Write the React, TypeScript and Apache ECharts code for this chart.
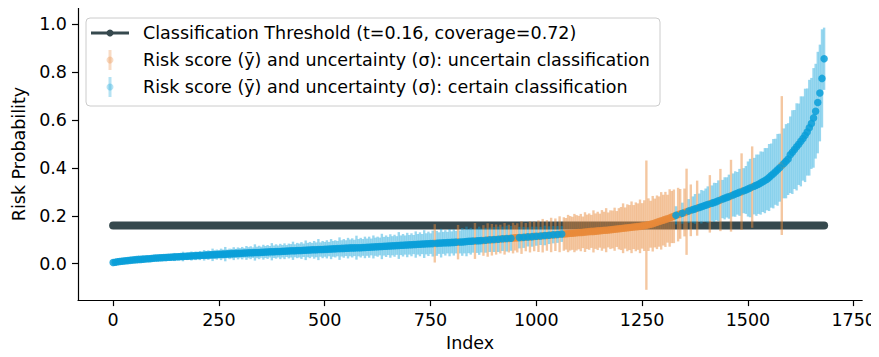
import React, { useEffect, useRef } from "react";
import * as echarts from "echarts";

// index step between consecutive listed risk scores
const STEP = 5;
const THRESHOLD = 0.16;
const THRESHOLD_LABEL = "Classification Threshold (t=0.16, coverage=0.72)";
const UNCERTAIN_LABEL = "Risk score (ȳ) and uncertainty (σ): uncertain classification";
const CERTAIN_LABEL = "Risk score (ȳ) and uncertainty (σ): certain classification";

const xTicks = [0, 250, 500, 750, 1000, 1250, 1500, 1750];
const yTicks = [0, 0.2, 0.4, 0.6, 0.8, 1.0];

// sorted mean risk scores (ȳ), one per STEP indices
const meanScores = [
  0.005, 0.006, 0.008, 0.009, 0.010, 0.011, 0.012, 0.013, 0.014, 0.015, 0.016, 0.017, 0.018, 0.018, 0.019, 0.020, 0.021, 0.021, 0.022, 0.023,
  0.024, 0.024, 0.025, 0.025, 0.026, 0.026, 0.027, 0.027, 0.028, 0.028, 0.029, 0.029, 0.030, 0.030, 0.031, 0.031, 0.032, 0.032, 0.033, 0.033,
  0.034, 0.034, 0.035, 0.035, 0.036, 0.036, 0.037, 0.037, 0.038, 0.038, 0.039, 0.039, 0.040, 0.040, 0.041, 0.041, 0.042, 0.042, 0.043, 0.043,
  0.044, 0.044, 0.045, 0.045, 0.046, 0.046, 0.046, 0.047, 0.047, 0.047, 0.048, 0.048, 0.049, 0.049, 0.050, 0.050, 0.050, 0.051, 0.051, 0.051,
  0.052, 0.052, 0.053, 0.053, 0.054, 0.054, 0.054, 0.055, 0.055, 0.055, 0.056, 0.056, 0.057, 0.057, 0.058, 0.058, 0.058, 0.059, 0.059, 0.059,
  0.060, 0.060, 0.061, 0.061, 0.062, 0.062, 0.063, 0.063, 0.064, 0.064, 0.065, 0.065, 0.066, 0.066, 0.066, 0.067, 0.067, 0.067, 0.068, 0.068,
  0.069, 0.069, 0.070, 0.070, 0.071, 0.071, 0.072, 0.072, 0.073, 0.073, 0.074, 0.074, 0.075, 0.075, 0.076, 0.076, 0.077, 0.077, 0.078, 0.078,
  0.079, 0.079, 0.080, 0.080, 0.081, 0.081, 0.082, 0.082, 0.083, 0.083, 0.084, 0.084, 0.085, 0.085, 0.086, 0.086, 0.087, 0.087, 0.088, 0.088,
  0.089, 0.089, 0.090, 0.090, 0.091, 0.091, 0.092, 0.093, 0.094, 0.094, 0.095, 0.095, 0.096, 0.096, 0.097, 0.097, 0.098, 0.099, 0.100, 0.100,
  0.101, 0.101, 0.102, 0.103, 0.104, 0.104, 0.105, 0.105, 0.106, 0.107, 0.108, 0.108, 0.109, 0.109, 0.110, 0.111, 0.112, 0.112, 0.113, 0.114,
  0.115, 0.115, 0.116, 0.117, 0.118, 0.118, 0.119, 0.120, 0.121, 0.121, 0.122, 0.123, 0.124, 0.124, 0.125, 0.126, 0.127, 0.127, 0.128, 0.129,
  0.130, 0.130, 0.131, 0.132, 0.133, 0.134, 0.135, 0.135, 0.136, 0.137, 0.138, 0.139, 0.140, 0.140, 0.141, 0.142, 0.143, 0.144, 0.145, 0.146,
  0.147, 0.148, 0.149, 0.150, 0.151, 0.152, 0.153, 0.154, 0.155, 0.156, 0.158, 0.159, 0.161, 0.163, 0.165, 0.167, 0.170, 0.173, 0.176, 0.179,
  0.182, 0.185, 0.188, 0.191, 0.195, 0.198, 0.202, 0.205, 0.208, 0.211, 0.214, 0.217, 0.220, 0.223, 0.226, 0.229, 0.232, 0.235, 0.238, 0.241,
  0.244, 0.247, 0.250, 0.253, 0.256, 0.259, 0.263, 0.266, 0.270, 0.273, 0.277, 0.280, 0.284, 0.287, 0.291, 0.294, 0.298, 0.301, 0.305, 0.308,
  0.312, 0.316, 0.320, 0.324, 0.328, 0.332, 0.337, 0.342, 0.347, 0.353, 0.360, 0.368, 0.376, 0.384, 0.392, 0.401, 0.410, 0.419, 0.428, 0.437,
  0.455, 0.466, 0.477, 0.488, 0.499, 0.511, 0.523, 0.536, 0.550, 0.568, 0.586, 0.609, 0.637, 0.673, 0.713, 0.774, 0.856,
];

// uncertainty (σ), half length of each error bar
const sigmas = [
  0.003, 0.004, 0.004, 0.005, 0.005, 0.006, 0.005, 0.007, 0.006, 0.007, 0.008, 0.006, 0.008, 0.009, 0.007, 0.010, 0.008, 0.009, 0.011, 0.009,
  0.010, 0.012, 0.009, 0.013, 0.011, 0.015, 0.010, 0.014, 0.012, 0.017, 0.011, 0.015, 0.013, 0.020, 0.012, 0.016, 0.014, 0.019, 0.013, 0.018,
  0.015, 0.019, 0.014, 0.022, 0.017, 0.020, 0.016, 0.026, 0.018, 0.021, 0.017, 0.024, 0.019, 0.030, 0.018, 0.022, 0.020, 0.027, 0.019, 0.025,
  0.021, 0.026, 0.020, 0.029, 0.023, 0.027, 0.022, 0.034, 0.024, 0.028, 0.023, 0.031, 0.025, 0.029, 0.024, 0.036, 0.026, 0.030, 0.025, 0.032,
  0.026, 0.033, 0.025, 0.031, 0.028, 0.038, 0.027, 0.032, 0.029, 0.035, 0.028, 0.041, 0.030, 0.034, 0.029, 0.037, 0.031, 0.044, 0.030, 0.036,
  0.031, 0.038, 0.030, 0.042, 0.033, 0.036, 0.032, 0.047, 0.034, 0.039, 0.033, 0.043, 0.035, 0.040, 0.034, 0.050, 0.036, 0.041, 0.035, 0.045,
  0.036, 0.044, 0.035, 0.048, 0.038, 0.042, 0.037, 0.053, 0.039, 0.045, 0.038, 0.049, 0.040, 0.046, 0.039, 0.056, 0.041, 0.047, 0.040, 0.051,
  0.041, 0.048, 0.040, 0.055, 0.043, 0.050, 0.042, 0.058, 0.044, 0.051, 0.043, 0.054, 0.080, 0.052, 0.045, 0.060, 0.046, 0.053, 0.045, 0.057,
  0.046, 0.055, 0.047, 0.072, 0.048, 0.058, 0.049, 0.062, 0.050, 0.056, 0.049, 0.075, 0.051, 0.059, 0.050, 0.064, 0.052, 0.070, 0.051, 0.066,
  0.052, 0.063, 0.053, 0.060, 0.051, 0.066, 0.054, 0.058, 0.052, 0.064, 0.053, 0.061, 0.045, 0.068, 0.044, 0.059, 0.040, 0.065, 0.042, 0.062,
  0.040, 0.066, 0.038, 0.070, 0.041, 0.064, 0.037, 0.072, 0.036, 0.068, 0.035, 0.075, 0.033, 0.070, 0.066, 0.078, 0.072, 0.069, 0.080, 0.074,
  0.070, 0.078, 0.066, 0.083, 0.072, 0.076, 0.069, 0.088, 0.074, 0.080, 0.071, 0.085, 0.077, 0.092, 0.073, 0.081, 0.079, 0.090, 0.075, 0.086,
  0.090, 0.104, 0.086, 0.098, 0.094, 0.108, 0.092, 0.102, 0.097, 0.112, 0.095, 0.106, 0.270, 0.110, 0.098, 0.116, 0.102, 0.112, 0.105, 0.120,
  0.106, 0.115, 0.100, 0.120, 0.109, 0.112, 0.038, 0.112, 0.104, 0.044, 0.100, 0.180, 0.050, 0.108, 0.055, 0.062, 0.115, 0.058, 0.070, 0.064,
  0.070, 0.076, 0.120, 0.074, 0.082, 0.078, 0.085, 0.130, 0.080, 0.088, 0.084, 0.092, 0.150, 0.090, 0.095, 0.089, 0.098, 0.160, 0.094, 0.100,
  0.115, 0.122, 0.170, 0.118, 0.128, 0.124, 0.132, 0.126, 0.136, 0.130, 0.140, 0.134, 0.145, 0.138, 0.150, 0.142, 0.290, 0.146, 0.155, 0.150,
  0.160, 0.175, 0.165, 0.182, 0.170, 0.188, 0.176, 0.195, 0.182, 0.200, 0.190, 0.208, 0.198, 0.212, 0.202, 0.205, 0.130,
];

const BLUE = "#0a9fd8";
const ORANGE = "#e8893a";
const DARK = "#36494e";
const FONT = "DejaVu Sans";
const FS = 17.5;

export default function App() {
  const ref = useRef<HTMLDivElement>(null);

  useEffect(() => {
    if (!ref.current) return;
    const chart = echarts.init(ref.current, undefined, { renderer: "svg" });

    const uncertainBars: number[][] = [];
    const certainBars: number[][] = [];
    const uncertainPts: number[][] = [];
    const certainPts: number[][] = [];
    meanScores.forEach((m, i) => {
      const s = sigmas[i];
      const x = i * STEP;
      const lo = m - s;
      const hi = m + s;
      if (lo <= THRESHOLD && hi >= THRESHOLD) {
        uncertainBars.push([x, lo, hi]);
        uncertainPts.push([x, m]);
      } else {
        certainBars.push([x, lo, hi]);
        certainPts.push([x, m]);
      }
    });
    const lastIndex = (meanScores.length - 1) * STEP;

    const barRenderer = (color: string, opacity: number) => (params: any, api: any) => {
      const x = api.value(0);
      const p1 = api.coord([x, api.value(1)]);
      const p2 = api.coord([x, api.value(2)]);
      return {
        type: "line",
        shape: { x1: p1[0], y1: p1[1], x2: p2[0], y2: p2[1] },
        style: { stroke: color, lineWidth: 2.4, opacity },
      };
    };

    const axisText = { color: "#000", fontFamily: FONT, fontSize: FS };

    const legendRows = [33, 60, 87];
    const legend = {
      type: "group",
      children: [
        {
          type: "rect",
          shape: { x: 86, y: 18, width: 574, height: 88, r: 4 },
          style: { fill: "rgba(255,255,255,0.85)", stroke: "#cccccc", lineWidth: 1 },
        },
        {
          type: "line",
          shape: { x1: 91, y1: legendRows[0], x2: 129, y2: legendRows[0] },
          style: { stroke: DARK, lineWidth: 3 },
        },
        { type: "circle", shape: { cx: 110, cy: legendRows[0], r: 3.5 }, style: { fill: DARK } },
        {
          type: "line",
          shape: { x1: 110, y1: legendRows[1] - 10, x2: 110, y2: legendRows[1] + 10 },
          style: { stroke: ORANGE, lineWidth: 3, opacity: 0.3 },
        },
        { type: "circle", shape: { cx: 110, cy: legendRows[1], r: 3.5 }, style: { fill: ORANGE, opacity: 0.3 } },
        {
          type: "line",
          shape: { x1: 110, y1: legendRows[2] - 10, x2: 110, y2: legendRows[2] + 10 },
          style: { stroke: BLUE, lineWidth: 3, opacity: 0.3 },
        },
        { type: "circle", shape: { cx: 110, cy: legendRows[2], r: 3.5 }, style: { fill: BLUE, opacity: 0.3 } },
        ...[THRESHOLD_LABEL, UNCERTAIN_LABEL, CERTAIN_LABEL].map((t, i) => ({
          type: "text",
          x: 143,
          y: legendRows[i],
          style: {
            text: t,
            fill: "#000",
            font: `${FS}px "${FONT}"`,
            verticalAlign: "middle",
            align: "left",
          },
        })),
      ],
      z: 100,
    };

    chart.setOption({
      animation: false,
      backgroundColor: "#fff",
      grid: { left: 78, right: 15, top: 8, bottom: 54 },
      xAxis: {
        type: "value",
        min: -83,
        max: 1770,
        name: "Index",
        nameLocation: "middle",
        nameGap: 32,
        nameTextStyle: axisText,
        axisLine: { show: true, onZero: false, lineStyle: { color: "#000", width: 1.2 } },
        axisTick: { show: true, customValues: xTicks, length: 6, lineStyle: { color: "#000", width: 1.2 } },
        axisLabel: { customValues: xTicks, margin: 11, formatter: (v: number) => String(v), ...axisText },
        splitLine: { show: false },
      },
      yAxis: {
        type: "value",
        min: -0.152,
        max: 1.068,
        name: "Risk Probability",
        nameLocation: "middle",
        nameRotate: 90,
        nameGap: 50,
        nameTextStyle: axisText,
        axisLine: { show: true, onZero: false, lineStyle: { color: "#000", width: 1.2 } },
        axisTick: { show: true, customValues: yTicks, length: 6, lineStyle: { color: "#000", width: 1.2 } },
        axisLabel: {
          customValues: yTicks,
          margin: 11,
          formatter: (v: number) => v.toFixed(1),
          ...axisText,
        },
        splitLine: { show: false },
      },
      graphic: [legend],
      series: [
        {
          name: THRESHOLD_LABEL,
          type: "line",
          data: [
            [0, THRESHOLD],
            [lastIndex, THRESHOLD],
          ],
          symbol: "none",
          lineStyle: { color: DARK, width: 8, cap: "round" },
          z: 1,
        },
        {
          name: UNCERTAIN_LABEL,
          type: "custom",
          data: uncertainBars,
          encode: { x: 0, y: [1, 2] },
          renderItem: barRenderer(ORANGE, 0.48),
          z: 2,
        },
        {
          name: UNCERTAIN_LABEL,
          type: "scatter",
          data: uncertainPts,
          symbolSize: 7.5,
          itemStyle: { color: ORANGE, opacity: 0.8 },
          z: 3,
        },
        {
          name: CERTAIN_LABEL,
          type: "custom",
          data: certainBars,
          encode: { x: 0, y: [1, 2] },
          renderItem: barRenderer(BLUE, 0.42),
          z: 4,
        },
        {
          name: CERTAIN_LABEL,
          type: "scatter",
          data: certainPts,
          symbolSize: 7.5,
          itemStyle: { color: BLUE, opacity: 0.85 },
          z: 5,
        },
      ],
    });

    return () => chart.dispose();
  }, []);

  return <div ref={ref} style={{ width: 879, height: 357, margin: -8 }} />;
}
